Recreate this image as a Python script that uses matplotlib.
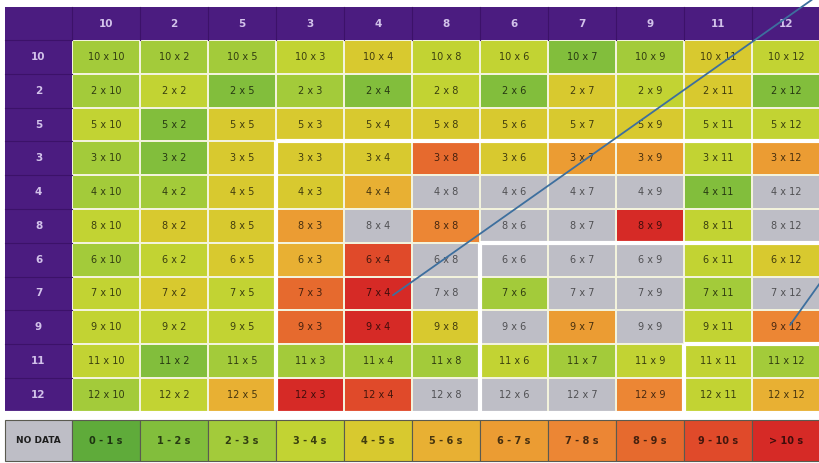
import numpy as np
import matplotlib
matplotlib.use("Agg")
import matplotlib.pyplot as plt
from matplotlib.colors import ListedColormap, BoundaryNorm, to_rgb
from matplotlib.patches import Rectangle

# ---------------- data ----------------
col_labels = ['10', '2', '5', '3', '4', '8', '6', '7', '9', '11', '12']
row_labels = ['10', '2', '5', '3', '4', '8', '6', '7', '9', '11', '12']

# response-time category per cell: 0 = no data, 1 = 0-1s, ..., 11 = >10s
row_10 = [3, 3, 3, 4, 5, 4, 4, 2, 3, 5, 4]
row_2  = [3, 4, 2, 3, 2, 4, 2, 5, 4, 5, 2]
row_5  = [4, 2, 5, 5, 5, 5, 5, 5, 5, 4, 4]
row_3  = [3, 2, 5, 5, 5, 9, 5, 7, 7, 4, 7]
row_4  = [3, 3, 5, 5, 6, 0, 0, 0, 0, 2, 0]
row_8  = [4, 5, 5, 7, 0, 8, 0, 0, 11, 4, 0]
row_6  = [3, 4, 5, 6, 10, 0, 0, 0, 0, 4, 5]
row_7  = [4, 5, 4, 9, 11, 0, 3, 0, 0, 3, 0]
row_9  = [4, 4, 4, 9, 11, 5, 0, 7, 0, 4, 8]
row_11 = [4, 2, 3, 3, 3, 3, 4, 3, 4, 4, 3]
row_12 = [3, 4, 6, 11, 10, 0, 0, 0, 8, 4, 6]
categories = [row_10, row_2, row_5, row_3, row_4, row_8, row_6, row_7, row_9, row_11, row_12]

legend_labels = ['NO DATA', '0 - 1 s', '1 - 2 s', '2 - 3 s', '3 - 4 s', '4 - 5 s',
                 '5 - 6 s', '6 - 7 s', '7 - 8 s', '8 - 9 s', '9 - 10 s', '> 10 s']

# highlighted blocks (start row index, start col index) outlined in white
blocks = [(3, 3), (6, 6), (9, 9)]

# annotation lines: target cell (row label, col label)
pointers = [('7', '4'), ('9', '12')]

# ---------------- style ----------------
palette = ['#bebec6', '#5fab3a', '#82be3c', '#a3cb3a', '#c2d333', '#d8c92f',
           '#e8b033', '#eb9c33', '#ec8634', '#e66a2e', '#e04a2a', '#d62a26']
purple = '#4b1c80'
purple_line = '#3c1269'
header_text = '#d2c2ea'
grid_line = '#f3f3dc'

W, H = 819, 463
fig = plt.figure(figsize=(W / 100, H / 100), dpi=100)
ax = fig.add_axes([0, 0, 1, 1])
cw, rh = 68.0, 33.8
x0px, y0px = 72.0, 40.0
ax.set_xlim(-x0px / cw, (W - x0px) / cw)
ax.set_ylim((H - y0px) / rh, -y0px / rh)
ax.axis('off')

n = len(col_labels)
data = np.array(categories)
cmap = ListedColormap(palette)
norm = BoundaryNorm(np.arange(-0.5, len(palette) + 0.5, 1), cmap.N)

ax.pcolormesh(np.arange(n + 1), np.arange(n + 1), data, cmap=cmap, norm=norm,
              edgecolors=grid_line, linewidth=1.2)


def dark(c, f=0.38):
    r, g, b = to_rgb(c)
    return (r * f, g * f, b * f)


for i, rl in enumerate(row_labels):
    for j, cl in enumerate(col_labels):
        c = palette[data[i, j]]
        tc = dark(c, 0.42 if data[i, j] == 0 else 0.3)
        ax.text(j + 0.5, i + 0.5, f'{rl} x {cl}', ha='center', va='center',
                fontsize=7, color=tc, family='DejaVu Sans')

# header row and label column
top = -0.975
left = -0.985
ax.add_patch(Rectangle((left, top), n - left, -top, facecolor=purple, edgecolor='none'))
ax.add_patch(Rectangle((left, 0), -left, n, facecolor=purple, edgecolor='none'))
for j in range(n + 1):
    ax.plot([j, j], [top, 0], color=purple_line, lw=0.8)
for i in range(n + 1):
    ax.plot([left, 0], [i, i], color=purple_line, lw=0.8)
for j, cl in enumerate(col_labels):
    ax.text(j + 0.5, top / 2, cl, ha='center', va='center', fontsize=7.5,
            fontweight='bold', color=header_text)
for i, rl in enumerate(row_labels):
    ax.text(left / 2, i + 0.5, rl, ha='center', va='center', fontsize=7.5,
            fontweight='bold', color=header_text)

# white outlines of highlighted blocks
for (r, c) in blocks:
    ax.plot([c, n], [r, r], color='white', lw=3.0, solid_capstyle='butt', zorder=5)
    ax.plot([c, c], [r, n], color='white', lw=3.0, solid_capstyle='butt', zorder=5)
ax.plot([left, n], [n + 0.03, n + 0.03], color='white', lw=3.0, zorder=5)

# legend strip
ly0 = (420 - y0px) / rh
ly1 = (461 - y0px) / rh
for k, lab in enumerate(legend_labels):
    xk = k - 1
    xl = left if k == 0 else xk
    ax.add_patch(Rectangle((xl, ly0), xk + 1 - xl, ly1 - ly0, facecolor=palette[k],
                           edgecolor='#5a5a50', lw=0.8, zorder=3))
    tc = '#1e1e1e' if k == 0 else dark(palette[k], 0.3)
    ax.text(xk + 0.5 + (0 if k else (xl - xk) / 2), (ly0 + ly1) / 2, lab,
            ha='center', va='center', fontsize=7 if k else 6.5,
            fontweight='bold', color=tc, zorder=4)

# blue pointer lines
ri = {r: i for i, r in enumerate(row_labels)}
ci = {c: j for j, c in enumerate(col_labels)}
starts = [(10.88, -1.19), (11.05, 7.05)]
offsets = [(0.22, 0.05), (0.06, -0.07)]
for (rl, cl), st, off in zip(pointers, starts, offsets):
    tgt = (ci[cl] + 0.5 + off[0], ri[rl] + 0.5 + off[1])
    ax.annotate('', xy=tgt, xytext=st,
                arrowprops=dict(arrowstyle='-', color='#3d6f9e', lw=1.3,
                                shrinkA=0, shrinkB=0), zorder=6,
                annotation_clip=False)

fig.savefig('out.png', dpi=100, facecolor='white')
